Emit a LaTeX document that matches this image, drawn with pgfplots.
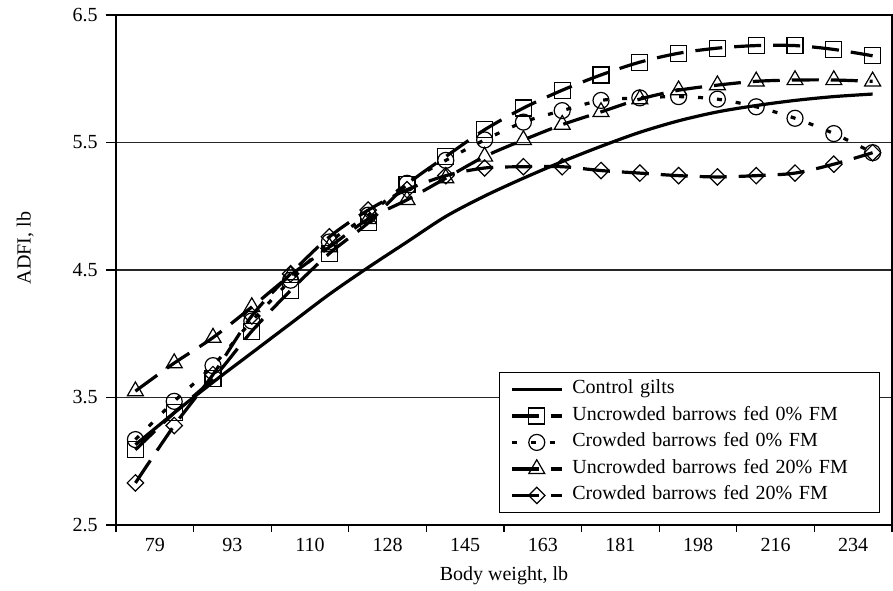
\documentclass[border=0pt]{standalone}
\usepackage{fontspec}
\setmainfont{Liberation Serif}
\usepackage{pgfplots}
\usepackage{pgfplotstable}
\pgfplotsset{compat=1.18}

\pgfplotstableread{
x     ctrl  uc0   cr0   uc20  cr20
-0.25 3.13  3.09  3.17  3.55  2.83
0.25  3.38  3.38  3.47  3.77  3.28
0.75  3.62  3.65  3.75  3.97  3.68
1.25  3.85  4.02  4.10  4.21  4.14
1.75  4.08  4.34  4.42  4.46  4.47
2.25  4.31  4.63  4.72  4.68  4.76
2.75  4.52  4.87  4.93  4.90  4.97
3.25  4.72  5.17  5.18  5.05  5.13
3.75  4.92  5.39  5.36  5.22  5.24
4.25  5.08  5.60  5.52  5.39  5.30
4.75  5.22  5.77  5.66  5.52  5.31
5.25  5.35  5.91  5.75  5.64  5.31
5.75  5.47  6.03  5.83  5.74  5.28
6.25  5.58  6.13  5.85  5.84  5.26
6.75  5.67  6.20  5.86  5.91  5.24
7.25  5.74  6.24  5.84  5.95  5.23
7.75  5.79  6.26  5.78  5.98  5.24
8.25  5.83  6.26  5.69  5.99  5.26
8.75  5.86  6.23  5.57  5.99  5.33
9.25  5.88  6.18  5.42  5.98  5.42
}\datatable

\begin{document}
\begin{tikzpicture}
\begin{axis}[
  scale only axis, width=388pt, height=255pt,
  xmin=-0.5, xmax=9.5, ymin=2.5, ymax=6.5,
  axis line style={line width=0.6pt, black},
  xtick={0,...,9},
  xticklabels={79,93,110,128,145,163,181,198,216,234},
  minor xtick={-0.5,0.5,...,9.5},
  every major x tick/.append style={draw=none},
  ytick={2.5,3.5,4.5,5.5,6.5},
  tick pos=left,
  tick align=outside,
  major tick length=5pt,
  minor tick length=3.5pt,
  tick style={line width=0.6pt, black},
  ymajorgrids,
  grid style={line width=0.6pt, black!85},
  /pgf/number format/fixed,
  /pgf/number format/fixed zerofill,
  /pgf/number format/precision=1,
  /pgf/number format/assume math mode=true,
  yticklabel style={inner sep=0pt, xshift=-4pt},
  xticklabel style={inner sep=0pt, yshift=-1.5pt},
  ticklabel style={font=\fontsize{10}{12}\selectfont},
  xlabel={Body weight, lb},
  ylabel={ADFI, lb},
  xlabel style={at={(axis description cs:0.5,0)}, anchor=center, inner sep=0pt, yshift=-25.25pt, font=\fontsize{10}{12}\selectfont},
  ylabel style={at={(axis description cs:-0.117,0.543)}, anchor=center, inner sep=0pt, font=\fontsize{10}{12}\selectfont},
  legend cell align=left,
  legend image code/.code={\draw[mark repeat=2,mark phase=2,#1] plot coordinates {(0pt,0pt) (12.5pt,0pt) (25pt,0pt)};},
  legend style={at={(rel axis cs:0.9845,0.0235)}, anchor=south east,
    draw=black, line width=0.6pt, fill=white,
    font=\fontsize{10}{12}\selectfont,
    inner xsep=5.5pt, inner ysep=3.75pt, row sep=3.75pt,
    nodes={inner sep=0pt, text height=7pt, text depth=2.5pt, text width=148pt, align=left},
    /tikz/every odd column/.append style={column sep=4.5pt}},
  every axis plot/.append style={line width=1.6pt, black},
]
\addplot[smooth, solid] table[x=x, y=ctrl] {\datatable};
\addlegendentry{Control gilts}
\addplot[smooth, dash pattern=on 13.5pt off 6pt, mark=square, mark size=4pt, mark options={solid, line width=0.6pt}] table[x=x, y=uc0] {\datatable};
\addlegendentry{Uncrowded barrows fed 0\% FM}
\addplot[smooth, dash pattern=on 2.5pt off 7pt, mark=o, mark size=4pt, mark options={solid, line width=0.6pt}] table[x=x, y=cr0] {\datatable};
\addlegendentry{Crowded barrows fed 0\% FM}
\addplot[smooth, dash pattern=on 13.5pt off 6pt, mark=triangle, mark size=4.6pt, mark options={solid, line width=0.6pt}] table[x=x, y=uc20] {\datatable};
\addlegendentry{Uncrowded barrows fed 20\% FM}
\addplot[smooth, dash pattern=on 13.5pt off 6pt, mark=square, mark size=2.9pt, mark options={solid, line width=0.6pt, rotate=45}] table[x=x, y=cr20] {\datatable};
\addlegendentry{Crowded barrows fed 20\% FM}
\end{axis}
\pgfresetboundingbox
\path ([shift={(-58pt,-32.5pt)}]current axis.south west) rectangle ([shift={(0.5pt,7.5pt)}]current axis.north east);
\end{tikzpicture}
\end{document}
